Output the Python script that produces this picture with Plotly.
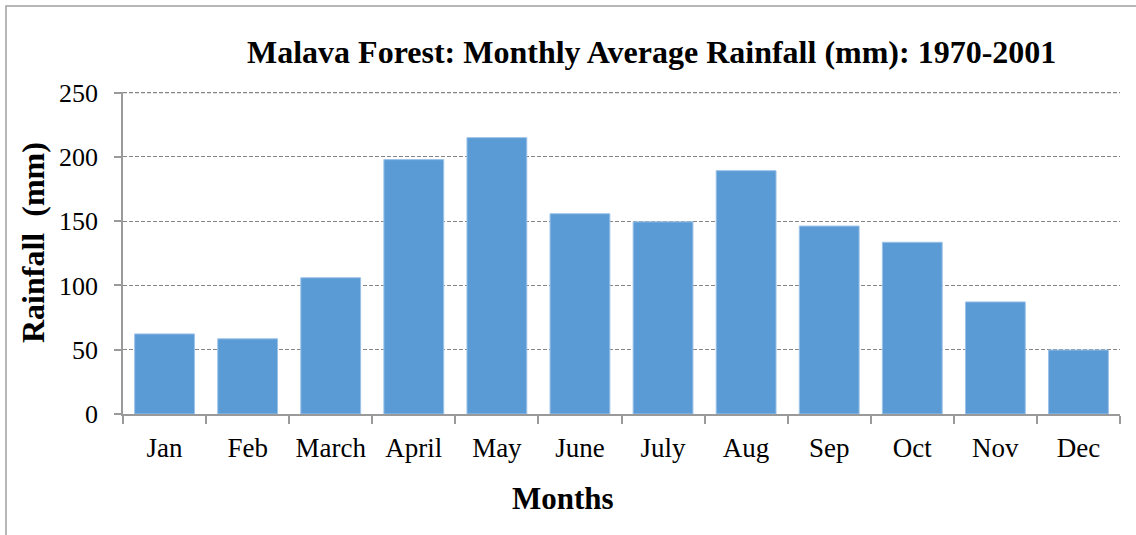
import plotly.graph_objects as go

months = ["Jan", "Feb", "March", "April", "May", "June", "July", "Aug", "Sep", "Oct", "Nov", "Dec"]
rainfall = [62.3, 58.5, 106.0, 197.9, 215.0, 155.8, 149.5, 189.3, 146.2, 133.6, 87.2, 49.8]
y_ticks = [0, 50, 100, 150, 200, 250]

title_text = "<b>Malava Forest: Monthly Average Rainfall (mm): 1970-2001</b>"
x_title = "<b>Months</b>"
y_title = "<b>Rainfall&nbsp;&nbsp;(mm)</b>"

FONT = "Liberation Serif, Times New Roman, serif"
W, H = 1136, 535
L, R, T, B = 123, 16, 92, 121
pw = W - L - R
ph = H - T - B
Y_TOP = 250.5
GRID_COLOR = "#858585"
GRID_DASH = "4px,2px"

fig = go.Figure()
fig.add_trace(go.Bar(
    x=months, y=rainfall,
    marker=dict(color="#5B9BD5", line=dict(color="#9CC2E8", width=1)),
    width=0.72,
    hoverinfo="skip",
))

def px_to_paper_x(px):
    return (px - L) / pw

def px_to_paper_y(py):
    return (H - B - py) / ph

fig.update_layout(
    width=W, height=H,
    margin=dict(l=L, r=R, t=T, b=B, pad=0),
    plot_bgcolor="white", paper_bgcolor="white",
    font=dict(family=FONT, color="black", size=26),
    showlegend=False,
    bargap=0.28,
    xaxis=dict(
        showline=True, linecolor="#9a9a9a", linewidth=1.5,
        ticks="outside", tickson="boundaries", ticklen=8, tickcolor="#9a9a9a", tickwidth=1.5,
        showgrid=False, tickfont=dict(size=27, family=FONT), ticklabelstandoff=9,
    ),
    yaxis=dict(
        range=[0, Y_TOP], tickvals=y_ticks, ticktext=[str(v) for v in y_ticks],
        showline=True, linecolor="#9a9a9a", linewidth=1.5,
        ticks="outside", ticklen=7, tickcolor="#9a9a9a", tickwidth=1.5,
        showgrid=True, gridcolor=GRID_COLOR, gridwidth=1.3, griddash=GRID_DASH,
        zeroline=False, tickfont=dict(size=26, family=FONT), ticklabelstandoff=11,
    ),
    annotations=[
        dict(text=title_text, xref="paper", yref="paper",
             x=px_to_paper_x(651.5), y=px_to_paper_y(52), xanchor="center", yanchor="middle",
             showarrow=False, font=dict(size=32, family=FONT, color="black")),
        dict(text=x_title, xref="paper", yref="paper",
             x=px_to_paper_x(563), y=px_to_paper_y(498), xanchor="center", yanchor="middle",
             showarrow=False, font=dict(size=31, family=FONT, color="black")),
        dict(text=y_title, xref="paper", yref="paper", textangle=-90,
             x=px_to_paper_x(33), y=px_to_paper_y(243), xanchor="center", yanchor="middle",
             showarrow=False, font=dict(size=32, family=FONT, color="black")),
    ],
    shapes=[
        dict(type="rect", xref="paper", yref="paper",
             x0=px_to_paper_x(6), x1=px_to_paper_x(1150),
             y0=px_to_paper_y(560), y1=px_to_paper_y(6),
             line=dict(color="#a0a0a0", width=1.5), fillcolor="rgba(0,0,0,0)", layer="below"),
        dict(type="line", xref="paper", yref="y",
             x0=0, x1=1, y0=y_ticks[-1], y1=y_ticks[-1],
             line=dict(color=GRID_COLOR, width=1.3, dash=GRID_DASH), layer="below"),
    ],
)

fig.write_html("out.html", config={"displayModeBar": False},
               post_script="document.body.style.margin='0';document.body.style.padding='0';")
